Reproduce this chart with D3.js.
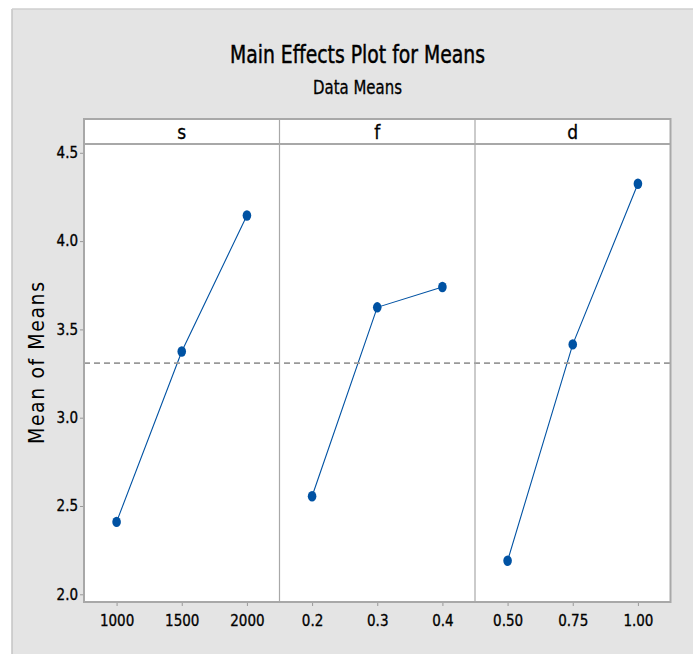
<!DOCTYPE html>
<html>
<head>
<meta charset="utf-8">
<script src="https://cdn.jsdelivr.net/npm/d3@7"></script>
<style>
  html, body { margin: 0; padding: 0; background: #ffffff; }
  svg { display: block; }
</style>
</head>
<body>
<div id="chart"></div>
<script>
// ---- Data ----
const factors = ["s", "f", "d"];
const sLevels = ["1000", "1500", "2000"];
const sMeans = [2.41, 3.375, 4.145];
const fLevels = ["0.2", "0.3", "0.4"];
const fMeans = [2.555, 3.625, 3.74];
const dLevels = ["0.50", "0.75", "1.00"];
const dMeans = [2.19, 3.415, 4.325];
const yTicks = [2.0, 2.5, 3.0, 3.5, 4.0, 4.5];
const titleText = "Main Effects Plot for Means";
const subtitleText = "Data Means";
const yLabelText = "Mean of Means";

const panels = [
  { name: factors[0], levels: sLevels, means: sMeans },
  { name: factors[1], levels: fLevels, means: fMeans },
  { name: factors[2], levels: dLevels, means: dMeans }
];
const allMeans = [].concat(sMeans, fMeans, dMeans);
const grandMean = d3.mean(allMeans);

// ---- Layout ----
const W = 693, H = 654;
const plotLeft = 84, plotRight = 670.5;
const stripTop = 119, plotTop = 144, plotBottom = 602;
const panelW = (plotRight - plotLeft) / panels.length;
const blue = "#0052a3";
const frameColor = "#a8a8a8";
const narrow = "'Liberation Sans Narrow', 'DejaVu Sans Condensed', 'Arial Narrow', sans-serif";

const svg = d3.select("#chart").append("svg")
  .attr("width", W).attr("height", H);

// background
svg.append("rect").attr("x", 12).attr("y", 9).attr("width", W - 12).attr("height", H - 9)
  .attr("fill", "#e4e4e4");
svg.append("line").attr("x1", 12).attr("x2", 12).attr("y1", 9).attr("y2", H)
  .attr("stroke", "#c4c4c4").attr("stroke-width", 1.5);
svg.append("line").attr("x1", 12).attr("x2", W).attr("y1", 9).attr("y2", 9)
  .attr("stroke", "#cfcfcf").attr("stroke-width", 1.5);

// titles
svg.append("text").attr("x", 357.5).attr("y", 62.5)
  .attr("text-anchor", "middle")
  .attr("font-family", narrow).attr("font-size", 25)
  .attr("textLength", 255).attr("lengthAdjust", "spacingAndGlyphs")
  .attr("fill", "#000").attr("stroke", "#000").attr("stroke-width", 0.45)
  .text(titleText);
svg.append("text").attr("x", 357.5).attr("y", 93.5)
  .attr("text-anchor", "middle")
  .attr("font-family", narrow).attr("font-size", 20)
  .attr("textLength", 89).attr("lengthAdjust", "spacingAndGlyphs")
  .attr("fill", "#000").attr("stroke", "#000").attr("stroke-width", 0.3)
  .text(subtitleText);

// y scale
const y = d3.scaleLinear().domain([1.9564, 4.5498]).range([plotBottom, plotTop]);

// plot backgrounds
svg.append("rect").attr("x", plotLeft).attr("y", stripTop)
  .attr("width", plotRight - plotLeft).attr("height", plotBottom - stripTop)
  .attr("fill", "#ffffff");

// y axis
const yAxis = svg.append("g").attr("transform", `translate(${plotLeft},0)`)
  .call(d3.axisLeft(y).tickValues(yTicks).tickFormat(d3.format(".1f")).tickSize(4).tickPadding(2));
yAxis.select(".domain").remove();
yAxis.selectAll(".tick line").attr("stroke", "#999");
yAxis.selectAll(".tick text").attr("font-family", narrow).attr("font-size", 15)
  .attr("fill", "#000").attr("stroke", "#000").attr("stroke-width", 0.3);

// y label
svg.append("text")
  .attr("transform", `translate(44,363) rotate(-90)`)
  .attr("text-anchor", "middle")
  .attr("font-family", "'DejaVu Sans Condensed', 'DejaVu Sans', sans-serif").attr("font-size", 21)
  .attr("textLength", 162).attr("lengthAdjust", "spacing")
  .attr("fill", "#000").text(yLabelText);

// panels
panels.forEach((p, i) => {
  const x0 = plotLeft + i * panelW;
  const x = d3.scalePoint().domain(p.levels).range([x0, x0 + panelW]).padding(0.5);

  // strip
  svg.append("text").attr("x", x0 + panelW / 2).attr("y", 139)
    .attr("text-anchor", "middle")
    .attr("font-family", narrow).attr("font-size", 19)
    .attr("fill", "#000").attr("stroke", "#000").attr("stroke-width", 0.3)
    .text(p.name);

  // x axis
  const xa = svg.append("g").attr("transform", `translate(0,${plotBottom})`)
    .call(d3.axisBottom(x).tickSize(4).tickPadding(9));
  xa.select(".domain").remove();
  xa.selectAll(".tick line").attr("stroke", "#999");
  xa.selectAll(".tick text").attr("font-family", narrow).attr("font-size", 15)
    .attr("fill", "#000").attr("stroke", "#000").attr("stroke-width", 0.3);

  // line
  const pts = p.levels.map((l, k) => [x(l), y(p.means[k])]);
  svg.append("path").attr("d", d3.line()(pts))
    .attr("fill", "none").attr("stroke", blue).attr("stroke-width", 1.1);

  svg.selectAll(null).data(pts).enter().append("ellipse")
    .attr("cx", d => d[0]).attr("cy", d => d[1])
    .attr("rx", 4.3).attr("ry", 5.2)
    .attr("fill", blue);
});

// reference line (grand mean)
svg.append("line").attr("x1", plotLeft).attr("x2", plotRight)
  .attr("y1", y(grandMean)).attr("y2", y(grandMean))
  .attr("stroke", "#999").attr("stroke-width", 1.8).attr("stroke-dasharray", "6,4");

// panel separators
for (let i = 1; i < panels.length; i++) {
  const xs = plotLeft + i * panelW;
  svg.append("line").attr("x1", xs).attr("x2", xs).attr("y1", stripTop).attr("y2", plotBottom)
    .attr("stroke", frameColor).attr("stroke-width", 1.2);
}
// strip bottom
svg.append("line").attr("x1", plotLeft).attr("x2", plotRight).attr("y1", plotTop).attr("y2", plotTop)
  .attr("stroke", frameColor).attr("stroke-width", 2);
// frame
svg.append("rect").attr("x", plotLeft).attr("y", stripTop)
  .attr("width", plotRight - plotLeft).attr("height", plotBottom - stripTop)
  .attr("fill", "none").attr("stroke", frameColor).attr("stroke-width", 2);
</script>
</body>
</html>
